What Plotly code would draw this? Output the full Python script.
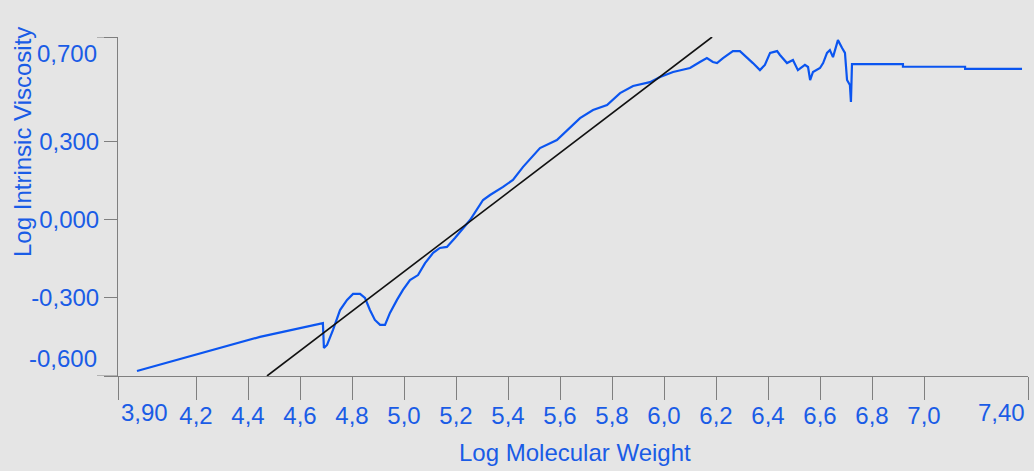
import plotly.graph_objects as go

# Measured curve: log molecular weight vs log intrinsic viscosity
log_mw = [3.973, 4.223, 4.446, 4.688, 4.692, 4.704, 4.727, 4.754, 4.781, 4.804,
          4.831, 4.850, 4.869, 4.888, 4.908, 4.927, 4.946, 4.973, 4.996, 5.023,
          5.054, 5.081, 5.112, 5.138, 5.165, 5.196, 5.254, 5.304, 5.331, 5.381,
          5.419, 5.458, 5.523, 5.588, 5.638, 5.677, 5.727, 5.781, 5.831, 5.881,
          5.946, 5.985, 6.035, 6.100, 6.138, 6.165, 6.188, 6.204, 6.227, 6.265,
          6.292, 6.319, 6.342, 6.369, 6.388, 6.408, 6.435, 6.446, 6.473, 6.496,
          6.515, 6.542, 6.554, 6.562, 6.573, 6.600, 6.612, 6.627, 6.638, 6.650,
          6.669, 6.685, 6.696, 6.704, 6.715, 6.719, 6.723, 6.919, 6.919, 7.158,
          7.158, 7.377]
log_iv = [-0.581, -0.512, -0.450, -0.397, -0.492, -0.481, -0.423, -0.347, -0.308, -0.285,
          -0.285, -0.301, -0.347, -0.385, -0.404, -0.404, -0.358, -0.308, -0.270, -0.232,
          -0.213, -0.167, -0.128, -0.109, -0.105, -0.071, -0.002, 0.075, 0.094, 0.125,
          0.152, 0.202, 0.274, 0.305, 0.351, 0.389, 0.420, 0.439, 0.485, 0.512,
          0.527, 0.547, 0.566, 0.581, 0.604, 0.619, 0.604, 0.600, 0.619, 0.646,
          0.646, 0.623, 0.600, 0.573, 0.593, 0.639, 0.646, 0.631, 0.600, 0.612,
          0.573, 0.593, 0.585, 0.535, 0.566, 0.581, 0.600, 0.639, 0.650, 0.623,
          0.688, 0.658, 0.639, 0.535, 0.516, 0.451, 0.596, 0.596, 0.586, 0.586,
          0.578, 0.578]

# Mark-Houwink fit line
fit_x = [4.473, 6.185]
fit_y = [-0.600, 0.700]

x_tickvals = [3.9, 4.2, 4.4, 4.6, 4.8, 5.0, 5.2, 5.4, 5.6, 5.8, 6.0, 6.2, 6.4, 6.6, 6.8, 7.0, 7.4]
x_ticktext = ["3,90", "4,2", "4,4", "4,6", "4,8", "5,0", "5,2", "5,4", "5,6", "5,8",
              "6,0", "6,2", "6,4", "6,6", "6,8", "7,0", "7,40"]
y_tickvals = [-0.6, -0.3, 0.0, 0.3, 0.7]
y_ticktext = ["-0,600", "-0,300", "0,000", "0,300", "0,700"]

BG = "#e5e5e5"
BLUE_LINE = "#0b55f0"
BLUE_TEXT = "#1a5ce6"
AXIS = "#7f7f7f"
FONT = "Liberation Sans, Arial, sans-serif"
FS = 24

fig = go.Figure()
fig.add_trace(go.Scatter(x=log_mw, y=log_iv, mode="lines",
                         line=dict(color=BLUE_LINE, width=2.2), showlegend=False))
fig.add_trace(go.Scatter(x=fit_x, y=fit_y, mode="lines",
                         line=dict(color="#111111", width=1.6), showlegend=False))

# middle tick labels by axis, end labels as annotations (shifted inward like the original)
x_mid_text = [t if i not in (0, len(x_ticktext) - 1) else "" for i, t in enumerate(x_ticktext)]
y_mid_text = [t if v not in (-0.6, 0.7) else "" for v, t in zip(y_tickvals, y_ticktext)]

fig.update_xaxes(range=[3.9, 7.4], tickvals=x_tickvals, ticktext=x_mid_text,
                 showgrid=False, zeroline=False, showline=True, linecolor=AXIS, linewidth=1,
                 ticks="outside", ticklen=23, tickcolor=AXIS, tickwidth=1,
                 ticklabelstandoff=-5,
                 tickfont=dict(family=FONT, size=FS, color=BLUE_TEXT))
fig.update_yaxes(range=[-0.6, 0.7], tickvals=y_tickvals, ticktext=y_mid_text,
                 showgrid=False, zeroline=False, showline=True, linecolor=AXIS, linewidth=1,
                 ticks="outside", ticklen=13, tickcolor=AXIS, tickwidth=1,
                 tickfont=dict(family=FONT, size=FS, color=BLUE_TEXT))

W, H = 1034, 471
L, R, T, B = 118, 6, 37, 95
pw, ph = W - L - R, H - T - B

ann = []
font = dict(family=FONT, size=FS, color=BLUE_TEXT)
# end labels x
ann.append(dict(x=x_tickvals[0], y=0, xref="x", yref="paper", text=x_ticktext[0],
                xanchor="left", yanchor="top", xshift=1, yshift=-21, showarrow=False, font=font))
ann.append(dict(x=x_tickvals[-1], y=0, xref="x", yref="paper", text=x_ticktext[-1],
                xanchor="right", yanchor="top", xshift=-1, yshift=-21, showarrow=False, font=font))
# end labels y
ann.append(dict(x=-19 / pw, y=0.7, xref="paper", yref="y", text=y_ticktext[-1],
                xanchor="right", yanchor="middle", yshift=-16, showarrow=False, font=font))
ann.append(dict(x=-19 / pw, y=-0.6, xref="paper", yref="y", text=y_ticktext[0],
                xanchor="right", yanchor="middle", yshift=18, showarrow=False, font=font))
# titles
ann.append(dict(x=(575 - L) / pw, y=(H - B - 452) / ph, xref="paper", yref="paper",
                text="Log Molecular Weight", xanchor="center", yanchor="middle",
                showarrow=False, font=font))
ann.append(dict(x=(22 - L) / pw, y=(H - B - 142) / ph, xref="paper", yref="paper",
                text="Log Intrinsic Viscosity", textangle=-90, xanchor="center",
                yanchor="middle", showarrow=False, font=font))

shapes = []
for yv in (0.7, -0.6):
    shapes.append(dict(type="line", xref="paper", yref="y", x0=-21 / pw, x1=0, y0=yv, y1=yv,
                       line=dict(color=AXIS, width=1)))

fig.update_layout(width=W, height=H, margin=dict(l=L, r=R, t=T, b=B),
                  paper_bgcolor=BG, plot_bgcolor=BG, annotations=ann, shapes=shapes,
                  font=dict(family=FONT, size=FS, color=BLUE_TEXT))

fig.write_html("out.html", config={"displayModeBar": False},
               post_script="document.body.style.margin='0';document.body.style.overflow='hidden';")
